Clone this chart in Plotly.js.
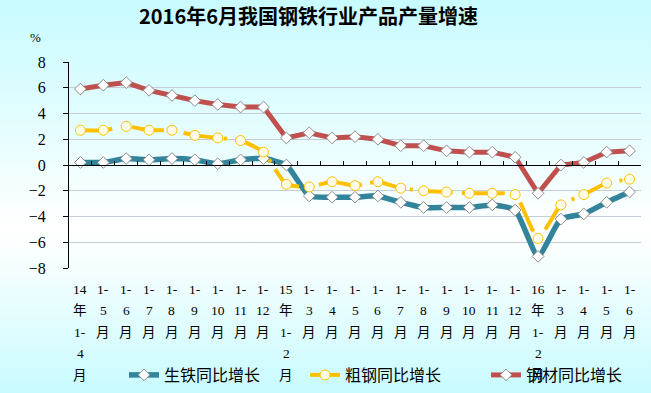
<!DOCTYPE html>
<html><head><meta charset="utf-8">
<script src="https://cdn.plot.ly/plotly-3.0.1.min.js"></script>
<style>
html,body{margin:0;padding:0;}
#chart{width:651px;height:393px;background:linear-gradient(to bottom,#c8fbff 0%,#e2fdff 30%,#ffffff 58%,#f2feff 70%,#c8fbff 100%);}
</style>
</head><body><div id="chart"></div>
<script>
const categories = ["2014年1-4月","2014年1-5月","2014年1-6月","2014年1-7月","2014年1-8月","2014年1-9月","2014年1-10月","2014年1-11月","2014年1-12月",
  "2015年1-2月","2015年1-3月","2015年1-4月","2015年1-5月","2015年1-6月","2015年1-7月","2015年1-8月","2015年1-9月","2015年1-10月","2015年1-11月","2015年1-12月",
  "2016年1-2月","2016年1-3月","2016年1-4月","2016年1-5月","2016年1-6月"];
const tickLabels = [["14","年","1-","4","月"],["1-","5","月"],["1-","6","月"],["1-","7","月"],["1-","8","月"],["1-","9","月"],["1-","10","月"],["1-","11","月"],["1-","12","月"],
  ["15","年","1-","2","月"],["1-","3","月"],["1-","4","月"],["1-","5","月"],["1-","6","月"],["1-","7","月"],["1-","8","月"],["1-","9","月"],["1-","10","月"],["1-","11","月"],["1-","12","月"],
  ["16","年","1-","2","月"],["1-","3","月"],["1-","4","月"],["1-","5","月"],["1-","6","月"]];
const seriesNames = ["生铁同比增长","粗钢同比增长","钢材同比增长"];
const pigIron = [0.2,0.2,0.5,0.4,0.5,0.4,0.1,0.4,0.5,0.0,-2.4,-2.5,-2.5,-2.4,-2.9,-3.3,-3.3,-3.3,-3.1,-3.5,-7.1,-4.2,-3.8,-2.9,-2.1];
const crudeSteel = [2.7,2.7,3.0,2.7,2.7,2.3,2.1,1.9,1.0,-1.5,-1.7,-1.3,-1.6,-1.3,-1.8,-2.0,-2.1,-2.2,-2.2,-2.3,-5.7,-3.1,-2.3,-1.4,-1.1];
const steelProducts = [5.9,6.2,6.4,5.8,5.4,5.0,4.7,4.5,4.5,2.1,2.5,2.1,2.2,2.0,1.5,1.5,1.1,1.0,1.0,0.6,-2.2,0.0,0.2,1.0,1.1];

const diamond = {symbol:'diamond', size:9, color:'#ffffff', line:{color:'#8c8c8c', width:1}};
const traces = [
  {x:categories, y:pigIron, name:seriesNames[0], type:'scatter', mode:'lines+markers',
   line:{color:'#31849b', width:5.5, shape:'spline', smoothing:0.5}, marker:diamond},
  {x:categories, y:crudeSteel, name:seriesNames[1], type:'scatter', mode:'lines+markers',
   line:{color:'#ffc000', width:4, shape:'spline', smoothing:0.5, dash:'32px,9px,3px,8px'},
   marker:{symbol:'circle', size:10, color:'#fffde8', line:{color:'#ffc000', width:1}}},
  {x:categories, y:steelProducts, name:seriesNames[2], type:'scatter', mode:'lines+markers',
   line:{color:'#c0504d', width:5}, marker:diamond}
];

const annotations = [];
const labelFont = {family:'Liberation Serif, Noto Sans CJK SC', size:13.5, color:'#000'};
tickLabels.forEach((lines, i) => {
  lines.forEach((t, j) => {
    annotations.push({xref:'x', x:categories[i], yref:'paper', y:0, yanchor:'middle', xanchor:'center',
      yshift:-(21 + 21.5*j), text:t, showarrow:false, font:labelFont});
  });
});
annotations.push({xref:'paper', x:-0.058, yref:'paper', y:1.12, text:'%', showarrow:false,
  xanchor:'center', yanchor:'middle', font:{family:'Liberation Serif', size:13, color:'#000'}});

const layout = {
  width:651, height:393,
  margin:{l:69, r:10, t:62, b:125},
  paper_bgcolor:'rgba(0,0,0,0)', plot_bgcolor:'rgba(0,0,0,0)',
  title:{text:'<b>2016年6月我国钢铁行业产品产量增速</b>', x:308.5/651, xanchor:'center', xref:'container',
    y:1-17/393, yanchor:'middle', yref:'container', font:{family:'Noto Sans CJK SC', size:20, color:'#000'}},
  xaxis:{type:'category', range:[-0.5,24.5], anchor:'free', position:0.5, showline:true, linecolor:'#000', linewidth:1,
    ticks:'inside', ticklen:4, tickcolor:'#000', tickson:'boundaries', showticklabels:false, showgrid:false, zeroline:false, fixedrange:true},
  yaxis:{range:[-8,8], tick0:0, dtick:2, showline:true, linecolor:'#000', linewidth:1, ticks:'outside', ticklen:5, tickcolor:'#000',
    gridcolor:'#c6cdd8', gridwidth:1, zeroline:false, ticklabelstandoff:14,
    tickfont:{family:'Liberation Serif', size:16, color:'#000'}},
  showlegend:true,
  legend:{orientation:'h', xref:'container', x:124/651, xanchor:'left', yref:'container', y:18/393, yanchor:'middle',
    entrywidth:136, entrywidthmode:'pixels', bgcolor:'rgba(0,0,0,0)', traceorder:'normal',
    font:{family:'Noto Sans CJK SC', size:16, color:'#000'}},
  annotations:annotations
};
Plotly.newPlot('chart', traces, layout, {displayModeBar:false, staticPlot:true});
</script></body></html>
